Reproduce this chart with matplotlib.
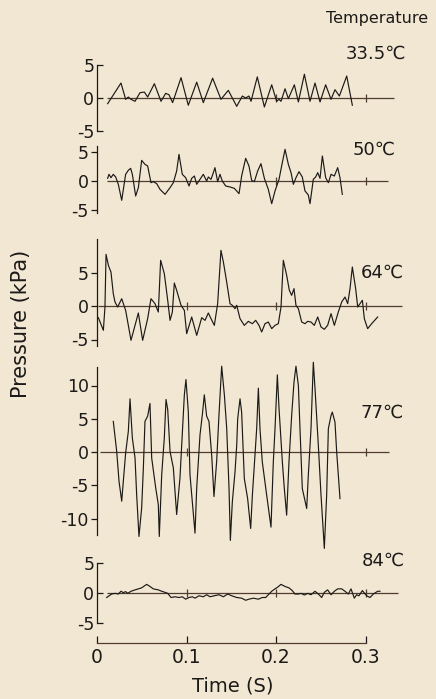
import matplotlib
matplotlib.use("Agg")
import matplotlib.pyplot as plt

W, H = 436, 699
PAPER = "#f2e7d3"
INK = "#1c1a18"
REF = "#4e3d30"

# ---- traces: time (s), pressure (kPa) ----
T_335 = [0.0119, 0.0268, 0.0320, 0.0350, 0.0380, 0.0425, 0.0480, 0.0529, 0.0566, 0.0641,
         0.0715, 0.0767, 0.0804, 0.0845, 0.0939, 0.1020, 0.1114, 0.1188, 0.1292, 0.1385,
         0.1467, 0.1561, 0.1624, 0.1661, 0.1698, 0.1721, 0.1791, 0.1870, 0.1952, 0.2007,
         0.2034, 0.2056, 0.2101, 0.2138, 0.2205, 0.2250, 0.2317, 0.2380, 0.2436, 0.2492,
         0.2555, 0.2615, 0.2659, 0.2708, 0.2790, 0.2853]
P_335 = [-0.86, 2.27, -0.2, 0.15, -0.2, -0.5, 0.8, 0.9, 0.15, 2.17,
         -0.5, 0.7, 0.5, -0.7, 3.08, -1.1, 2.4, -0.7, 3.0, -0.2,
         1.16, -1.26, 0.3, 0.0, 0.3, -0.5, 3.2, -1.36, 2.0, -0.5,
         -0.2, -0.5, 1.4, -0.1, 2.0, -0.6, 3.6, -0.5, 2.27, -0.6,
         2.0, -0.2, 1.26, 0.3, 3.33, -1.1]

T_50 = [0.0119, 0.0134, 0.0156, 0.0182, 0.0209, 0.0238, 0.0276, 0.0320, 0.0350, 0.0376,
        0.0395, 0.0432, 0.0462, 0.0499, 0.0536, 0.0566, 0.0603, 0.0629, 0.0667, 0.0704,
        0.0760, 0.0816, 0.0853, 0.0890, 0.0916, 0.0953, 0.0991, 0.1028, 0.1058, 0.1088,
        0.1114, 0.1151, 0.1188, 0.1225, 0.1244, 0.1274, 0.1300, 0.1318, 0.1348, 0.1374,
        0.1400, 0.1438, 0.1486, 0.1534, 0.1587, 0.1616, 0.1661, 0.1698, 0.1728, 0.1758,
        0.1795, 0.1832, 0.1870, 0.1914, 0.1952, 0.1989, 0.2034, 0.2063, 0.2101, 0.2138,
        0.2168, 0.2194, 0.2223, 0.2257, 0.2294, 0.2324, 0.2361, 0.2380, 0.2417, 0.2443,
        0.2466, 0.2492, 0.2518, 0.2555, 0.2585, 0.2615, 0.2652, 0.2689, 0.2715, 0.2741]
P_50 = [0.46, 1.15, 0.57, 1.15, 0.69, -0.57, -3.33, 1.15, 1.84, 2.18,
        1.15, -2.59, -1.15, 3.56, 2.87, 2.59, -0.29, -0.11, -0.46, -1.44,
        -2.30, -1.15, -0.29, 1.72, 4.60, 1.15, 0.57, -0.86, 0.46, 0.86,
        -0.57, 0.29, 1.15, 0.0, 0.69, 0.29, 1.44, 2.30, -0.11, 1.15,
        0.0, -0.86, -1.03, -1.26, -2.18, 0.86, 3.91, 2.59, 0.11, -0.11,
        1.72, 2.99, 0.46, -1.44, -3.91, -1.72, 0.29, 2.59, 5.46, 2.87,
        1.44, -0.57, 0.57, 1.61, 0.69, -1.72, -2.41, -3.91, 0.29, 0.69,
        1.44, 0.46, 4.31, 0.57, -0.29, 1.15, 0.86, 2.30, 0.57, -2.30]

T_64 = [0.0015, 0.0071, 0.0089, 0.0101, 0.0127, 0.0156, 0.0182, 0.0201, 0.0231, 0.0276,
        0.0320, 0.0380, 0.0462, 0.0510, 0.0566, 0.0603, 0.0648, 0.0685, 0.0711, 0.0752,
        0.0790, 0.0816, 0.0842, 0.0864, 0.0890, 0.0939, 0.0976, 0.1002, 0.1058, 0.1114,
        0.1170, 0.1207, 0.1244, 0.1274, 0.1311, 0.1348, 0.1385, 0.1412, 0.1449, 0.1486,
        0.1512, 0.1542, 0.1561, 0.1598, 0.1646, 0.1691, 0.1736, 0.1773, 0.1810, 0.1840,
        0.1877, 0.1914, 0.1952, 0.1989, 0.2026, 0.2056, 0.2082, 0.2119, 0.2149, 0.2175,
        0.2201, 0.2223, 0.2250, 0.2287, 0.2324, 0.2354, 0.2391, 0.2428, 0.2466, 0.2503,
        0.2540, 0.2577, 0.2615, 0.2652, 0.2696, 0.2734, 0.2771, 0.2801, 0.2827, 0.2853,
        0.2890, 0.2913, 0.2939, 0.2965, 0.2987, 0.3024, 0.3069, 0.3136]
P_64 = [-1.74, -3.63, -0.15, 7.71, 6.07, 5.07, 1.84, 0.60, -0.15, 1.09,
        -0.65, -5.12, -1.04, -5.12, -1.89, 1.09, 0.35, -0.90, 6.82, 4.83,
        0.85, -2.14, -0.90, 3.43, 2.34, 0.10, -0.65, -4.13, -1.64, -4.38,
        -1.74, -2.14, -1.04, -1.89, -2.89, 0.35, 8.31, 6.57, 3.58, 0.35,
        0.10, -0.40, 0.10, -1.89, -2.89, -2.29, -2.64, -2.14, -2.89, -3.88,
        -2.64, -2.39, -3.38, -2.89, -2.64, -0.15, 6.82, 4.58, 2.34, 1.59,
        2.59, 0.10, -0.40, -2.39, -2.64, -2.29, -2.39, -2.89, -1.64, -3.13,
        -3.48, -2.89, -1.14, -2.89, -0.90, 0.60, 1.34, 0.35, 2.59, 5.82,
        2.59, -0.15, 0.35, 0.85, -1.89, -3.38, -2.64, -1.64]

T_77 = [0.0182, 0.0220, 0.0246, 0.0276, 0.0320, 0.0350, 0.0369, 0.0395, 0.0425, 0.0443,
        0.0469, 0.0499, 0.0518, 0.0536, 0.0566, 0.0592, 0.0611, 0.0656, 0.0685, 0.0696,
        0.0723, 0.0752, 0.0771, 0.0790, 0.0816, 0.0853, 0.0890, 0.0927, 0.0976, 0.0994,
        0.1020, 0.1039, 0.1058, 0.1095, 0.1114, 0.1151, 0.1177, 0.1199, 0.1225, 0.1251,
        0.1281, 0.1307, 0.1337, 0.1363, 0.1393, 0.1423, 0.1449, 0.1475, 0.1490, 0.1512,
        0.1542, 0.1561, 0.1572, 0.1598, 0.1616, 0.1646, 0.1683, 0.1717, 0.1736, 0.1765,
        0.1784, 0.1803, 0.1821, 0.1847, 0.1896, 0.1944, 0.1970, 0.1989, 0.2015, 0.2034,
        0.2071, 0.2093, 0.2119, 0.2145, 0.2175, 0.2201, 0.2223, 0.2250, 0.2268, 0.2294,
        0.2343, 0.2361, 0.2391, 0.2417, 0.2436, 0.2473, 0.2503, 0.2540, 0.2566, 0.2585,
        0.2615, 0.2629, 0.2659, 0.2678, 0.2715]
P_77 = [4.6, 0.1, -4.4, -7.4, -0.15, 3.1, 8.0, 2.1, -0.9, -6.4,
        -12.7, -8.4, -2.4, 4.6, 5.4, 7.3, -0.9, -5.4, -7.9, -12.7,
        -3.4, 2.1, 7.9, 6.4, 0.1, -2.4, -9.4, -3.9, 8.6, 10.9,
        6.1, -3.4, -6.4, -12.2, -5.4, 2.6, 5.6, 8.6, 5.4, 4.6,
        -0.4, -6.7, -1.4, 5.6, 12.9, 8.6, 3.6, -5.4, -13.3, -7.5,
        -3.0, 1.0, 5.0, 8.0, 6.0, -4.0, -7.0, -11.5, -6.5, -0.5,
        3.5, 9.6, 3.5, -1.5, -6.5, -11.3, -1.5, 3.5, 11.6, 6.5,
        -1.5, -5.5, -9.5, -1.5, 5.5, 10.5, 12.9, 10.0, 3.5, -5.5,
        -8.5, -3.5, 3.5, 13.5, 9.5, 1.0, -6.5, -14.5, -6.5, 3.5,
        5.5, 6.0, 4.5, 0.0, -7.0]

T_84 = [0.0108, 0.0164, 0.0201, 0.0238, 0.0268, 0.0294, 0.0320, 0.0343, 0.0380, 0.0425,
        0.0462, 0.0499, 0.0555, 0.0592, 0.0629, 0.0685, 0.0723, 0.0760, 0.0790, 0.0827,
        0.0872, 0.0916, 0.0953, 0.0991, 0.1028, 0.1065, 0.1095, 0.1140, 0.1188, 0.1225,
        0.1263, 0.1311, 0.1363, 0.1412, 0.1460, 0.1505, 0.1561, 0.1616, 0.1661, 0.1698,
        0.1747, 0.1803, 0.1847, 0.1885, 0.1922, 0.1952, 0.1989, 0.2019, 0.2056, 0.2101,
        0.2145, 0.2182, 0.2212, 0.2250, 0.2279, 0.2317, 0.2354, 0.2391, 0.2436, 0.2473,
        0.2510, 0.2540, 0.2577, 0.2615, 0.2652, 0.2689, 0.2734, 0.2771, 0.2808, 0.2838,
        0.2875, 0.2901, 0.2927, 0.2965, 0.3013, 0.3050, 0.3088, 0.3136, 0.3162]
P_84 = [-0.75, -0.17, -0.06, -0.17, 0.29, 0.06, 0.23, -0.06, 0.29, 0.52,
        0.69, 0.86, 1.44, 1.09, 0.69, 0.52, 0.29, 0.11, -0.06, -0.75,
        -0.63, -0.75, -0.63, -1.03, -0.75, -0.63, -0.86, -0.46, -0.63, -0.29,
        -0.63, -0.46, -0.29, -0.63, -0.17, -0.46, -0.75, -0.86, -1.21, -1.03,
        -0.86, -1.03, -0.75, -0.75, -0.17, 0.29, 0.69, 0.98, 1.44, 1.09,
        0.86, 0.40, -0.17, -0.17, -0.06, -0.34, -0.06, -0.29, 0.29, -0.17,
        -0.75, 0.11, 0.52, -0.29, 0.29, 0.69, 0.69, 0.29, -0.17, 0.69,
        -0.86, -0.29, -0.46, 0.40, -0.46, -0.75, -0.17, 0.29, 0.29]

LABELS = ["33.5℃", "50℃", "64℃", "77℃", "84℃"]
YTICKS = [[-5, 0, 5], [-5, 0, 5], [-5, 0, 5], [-10, -5, 0, 5, 10], [-5, 0, 5]]
ZERO_SPAN = [(0.011, 0.332), (0.011, 0.325), (0.001, 0.341), (0.003, 0.326), (0.011, 0.336)]
ZERO_TICKS = [[0.2, 0.3], [0.2, 0.3], [0.1, 0.2, 0.3], [0.1, 0.3], [0.1, 0.2, 0.3]]
XTICKS = [0, 0.1, 0.2, 0.3]

# layout per panel: zero-line pixel row, px per kPa, ylim, spine bounds, tick dir, label pos
PANELS = [
    (98, 6.6, (-5.5, 5.5), (-5, 5), "in", (376, 54)),
    (181, 5.8, (-6, 6.5), (-5.5, 6), "out", (374, 150)),
    (306, 6.7, (-6.5, 10.5), (-6, 10), "out", (382, 273)),
    (452, 6.65, (-15, 13.5), (-12.5, 12.8), "out", (382, 413)),
    (593, 6.0, (-5.5, 5.5), (-5, 5), "in", (383, 561)),
]
X0, PX_PER_S, XMAX = 97, 895, 0.345

plt.rcParams["font.family"] = ["DejaVu Sans"]
fig = plt.figure(figsize=(W / 100, H / 100), dpi=100, facecolor=PAPER)

series = [(T_335, P_335), (T_50, P_50), (T_64, P_64), (T_77, P_77), (T_84, P_84)]
for i, ((t, p), (zero, scale, ylim, bounds, tdir, lpos)) in enumerate(zip(series, PANELS)):
    top = zero - ylim[1] * scale
    bot = zero - ylim[0] * scale
    ax = fig.add_axes([X0 / W, 1 - bot / H, XMAX * PX_PER_S / W, (bot - top) / H])
    ax.set_facecolor("none")
    ax.set_xlim(0, XMAX)
    ax.set_ylim(*ylim)

    ax.hlines(0, *ZERO_SPAN[i], color=REF, lw=0.9)
    ax.vlines(ZERO_TICKS[i], -0.6 * 6.6 / scale, 0.6 * 6.6 / scale, color=REF, lw=0.9)
    ax.plot(t, p, color=INK, lw=0.85, clip_on=False)

    for s in ("top", "right"):
        ax.spines[s].set_visible(False)
    ax.spines["left"].set_bounds(*bounds)
    ax.spines["left"].set_color(INK)
    ax.spines["left"].set_linewidth(0.9)
    ax.set_yticks(YTICKS[i])
    ax.set_yticklabels([str(v) for v in YTICKS[i]])
    ax.tick_params(axis="y", direction=tdir, length=4, width=0.9, colors=INK,
                   labelsize=12.5, pad=2)

    if i == 4:
        ax.spines["bottom"].set_position(("outward", 12))
        ax.spines["bottom"].set_bounds(0, 0.3)
        ax.spines["bottom"].set_color(REF)
        ax.spines["bottom"].set_linewidth(0.9)
        ax.set_xticks(XTICKS)
        ax.set_xticklabels(["0", "0.1", "0.2", "0.3"])
        ax.tick_params(axis="x", direction="in", length=5, width=0.9, colors=INK,
                       labelsize=13.5, pad=4)
    else:
        ax.spines["bottom"].set_visible(False)
        ax.set_xticks([])

    fig.text(lpos[0] / W, 1 - lpos[1] / H, LABELS[i], ha="center", va="center",
             fontsize=13, color=INK)

fig.text(377 / W, 1 - 18 / H, "Temperature", ha="center", va="center",
         fontsize=11.5, color=INK)
fig.text(21 / W, 1 - 324 / H, "Pressure (kPa)", ha="center", va="center",
         rotation=90, fontsize=15, color=INK)
fig.text(233 / W, 1 - 686 / H, "Time (S)", ha="center", va="center",
         fontsize=14, color=INK)

fig.savefig("out.png", dpi=100, facecolor=PAPER)
